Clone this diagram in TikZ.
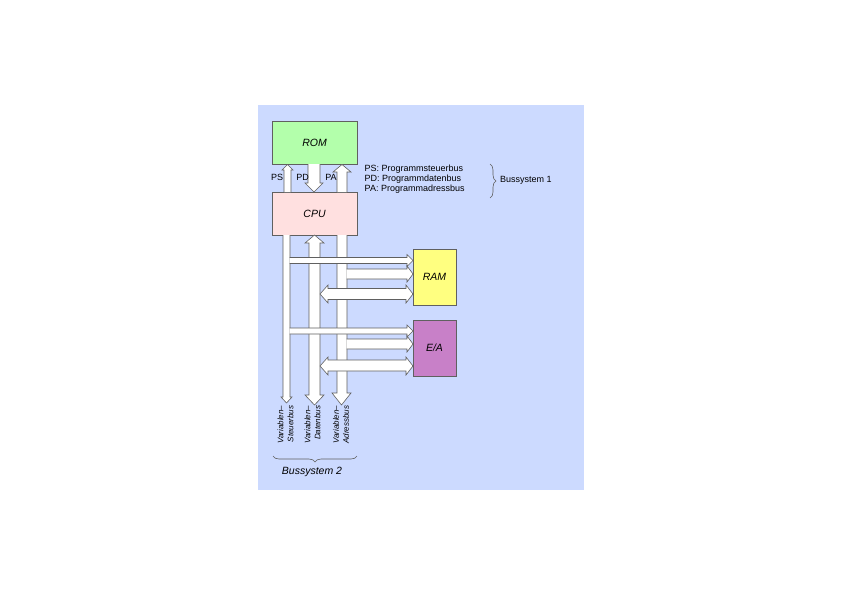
\documentclass[tikz,border=0pt]{standalone}
\usepackage{fontspec}
\setmainfont{Liberation Sans}
\usetikzlibrary{decorations.pathreplacing}
\definecolor{bgc}{HTML}{CCDAFF}
\definecolor{romc}{HTML}{B3FFAB}
\definecolor{cpuc}{HTML}{FFE0E0}
\definecolor{ramc}{HTML}{FFFF80}
\definecolor{eac}{HTML}{C880C8}
\definecolor{linec}{HTML}{606060}
\begin{document}
\begin{tikzpicture}[x=1pt,y=-1pt,
  unit/.style={draw=linec, line width=0.7pt, inner sep=0pt, minimum width=85pt, minimum height=43pt, font=\fontsize{10.5}{12}\selectfont\itshape},
  iobox/.style={draw=linec, line width=0.7pt, inner sep=0pt, minimum width=43pt, minimum height=56pt, font=\fontsize{10.5}{12}\selectfont\itshape},
  busarrow/.style={draw=linec, fill=white, line width=0.6pt, line join=miter},
  lbl/.style={inner sep=0pt, font=\fontsize{9}{10}\selectfont},
  vlbl/.style={inner sep=0pt, rotate=90, anchor=east, align=right, font=\fontsize{8}{10}\selectfont\itshape},
  bracestyle/.style={draw=linec, line width=0.6pt, decorate, decoration={brace, amplitude=6pt}}
]
\useasboundingbox (0,0) rectangle (842,595);
\fill[bgc] (258,105) rectangle (584,490);

% units
\node[unit, fill=romc] (rom) at (314.5,142.5) {ROM};
\node[unit, fill=cpuc] (cpu) at (314.5,213.5) {CPU};
\node[iobox, fill=ramc] (ram) at (434.5,277) {RAM};
\node[iobox, fill=eac] (ea) at (434.5,348) {E/A};

% Bussystem 1 (CPU <-> ROM)
\path[busarrow] (284,192) -- (284,170) -- (282,170) -- (287.5,164.5) -- (293,170) -- (291,170) -- (291,192);
\path[busarrow] (308,164) -- (308,183) -- (305,183) -- (314,192) -- (323,183) -- (320,183) -- (320,164);
\path[busarrow] (337,192) -- (337,172) -- (333,172) -- (342,164.5) -- (351,172) -- (347,172) -- (347,192);

% Bussystem 2 vertical buses
\path[busarrow] (283,235) -- (283,397) -- (281,397) -- (286.5,403) -- (292,397) -- (290,397) -- (290,235);
\path[busarrow] (309,243) -- (309,395) -- (305,395) -- (314.5,405) -- (324,395) -- (320,395) -- (320,243) -- (324,243) -- (314.5,235) -- (305,243) -- cycle;
\path[busarrow] (337,235) -- (337,393) -- (332,393) -- (341.5,405) -- (351,393) -- (347,393) -- (347,235);

% branches to RAM
\path[busarrow] (289.5,257.5) -- (407,257.5) -- (407,254.5) -- (413,260.5) -- (407,266.5) -- (407,263.5) -- (289.5,263.5);
\path[busarrow] (346.5,269) -- (407,269) -- (407,266) -- (413,274) -- (407,282) -- (407,279) -- (346.5,279);
\path[busarrow] (328,288.5) -- (406,288.5) -- (406,285) -- (413,294) -- (406,303) -- (406,299.5) -- (328,299.5) -- (328,303) -- (320,294) -- (328,285) -- cycle;

% branches to E/A
\path[busarrow] (289.5,328) -- (407,328) -- (407,325) -- (413,331) -- (407,337) -- (407,334) -- (289.5,334);
\path[busarrow] (346.5,339) -- (407,339) -- (407,336) -- (413,344) -- (407,352) -- (407,349) -- (346.5,349);
\path[busarrow] (328,360) -- (406,360) -- (406,357) -- (413,366) -- (406,375) -- (406,371) -- (328,371) -- (328,375) -- (320,366) -- (328,357) -- cycle;

% labels of Bussystem 1
\node[lbl] (ps) at (277,177) {PS};
\node[lbl] (pd) at (302.5,177) {PD};
\node[lbl] (pa) at (331,177) {PA};
\node[lbl, anchor=north west, align=left] (legend) at (364.5,164.5) {PS: Programmsteuerbus\\PD: Programmdatenbus\\PA: Programmadressbus};
\coordinate (b1top) at (490,164);
\coordinate (b1bot) at (490,198);
\draw[bracestyle] (b1top) -- (b1bot);
\node[lbl, anchor=west] (bs1) at (500,180) {Bussystem 1};

% labels of Bussystem 2
\node[vlbl] (vs) at (285.5,405.5) {Variablen–\\Steuerbus};
\node[vlbl] (vd) at (312.5,405.5) {Variablen–\\Datenbus};
\node[vlbl] (va) at (341,405.5) {Variablen–\\Adressbus};
\coordinate (b2r) at (357,456);
\coordinate (b2l) at (273,456);
\draw[bracestyle] (b2r) -- (b2l);
\node[inner sep=0pt, font=\fontsize{10.5}{12}\selectfont\itshape] (bs2) at (312,472) {Bussystem 2};
\end{tikzpicture}
\end{document}
